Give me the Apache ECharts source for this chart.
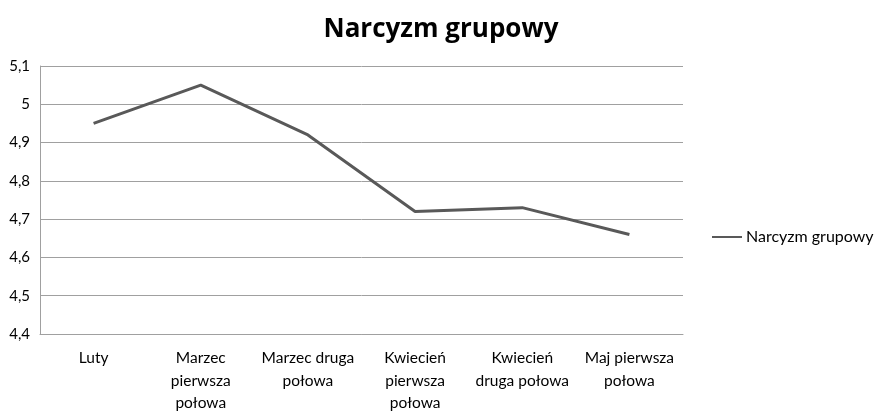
<!DOCTYPE html>
<html><head><meta charset="utf-8">
<script src="https://cdn.jsdelivr.net/npm/echarts@6/dist/echarts.min.js"></script>
<style>html,body{margin:0;padding:0;background:#fff}#c{width:879px;height:413px}</style>
</head><body><div id="c"></div>
<script>
const categories = ["Luty","Marzec\npierwsza\npołowa","Marzec druga\npołowa","Kwiecień\npierwsza\npołowa","Kwiecień\ndruga połowa","Maj pierwsza\npołowa"];
const values = [4.95, 5.05, 4.92, 4.72, 4.73, 4.66];
const seriesName = "Narcyzm grupowy";
const chart = echarts.init(document.getElementById('c'));
const font = 'Lato, "Noto Sans", sans-serif';
chart.setOption({
  animation:false,
  title:{text:seriesName,left:436,textAlign:'center',top:12,textStyle:{fontFamily:'"Open Sans", "Noto Sans", sans-serif',fontSize:26,fontWeight:'bold',color:'#000'}},
  legend:{data:[seriesName],orient:'vertical',left:707,top:224,itemWidth:30,itemHeight:14,itemGap:6,icon:'path://M0,6 L30,6 L30,8 L0,8 Z',textStyle:{fontFamily:font,fontSize:16,color:'#000',padding:[0,0,0,-1]}},
  grid:{left:40,right:196,top:66,bottom:79,containLabel:false,outerBoundsMode:'none'},
  xAxis:{type:'category',data:categories,boundaryGap:true,
    axisLine:{lineStyle:{color:'#a0a0a0',width:1}},axisTick:{show:false},
    axisLabel:{fontFamily:font,fontSize:15.5,color:'#000',margin:13,lineHeight:22.5,interval:0}},
  yAxis:{type:'value',min:4.4,max:5.1,interval:0.1,
    axisLine:{show:true,lineStyle:{color:'#a0a0a0'}},
    splitLine:{lineStyle:{color:'#a0a0a0',width:1}},
    axisLabel:{fontFamily:font,fontSize:15,color:'#000',margin:10,formatter:v=>(Math.round(v*10)/10).toString().replace('.',',')}},
  series:[{name:seriesName,type:'line',data:values,symbol:'none',lineStyle:{color:'#595959',width:3},itemStyle:{color:'#595959'}}]
});
</script></body></html>
